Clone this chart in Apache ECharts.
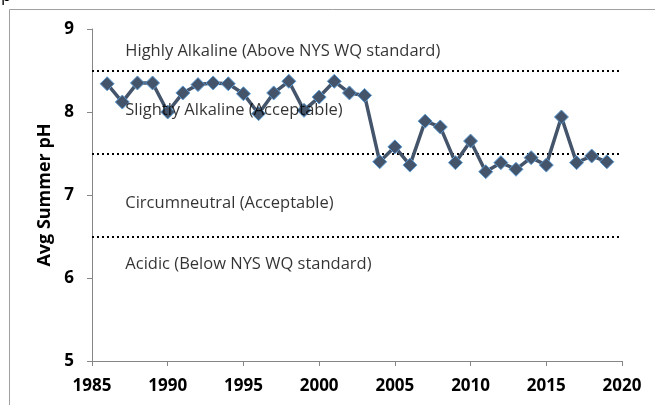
<!DOCTYPE html>
<html><head><meta charset="utf-8">
<script src="https://cdn.jsdelivr.net/npm/echarts@6/dist/echarts.min.js"></script>
<style>html,body{margin:0;padding:0;background:#fff}#c{width:655px;height:405px}</style>
</head><body><div id="c"></div>
<script>
var years = [1986,1987,1988,1989,1990,1991,1992,1993,1994,1995,1996,1997,1998,1999,2000,2001,2002,2003,2004,2005,2006,2007,2008,2009,2010,2011,2012,2013,2014,2015,2016,2017,2018,2019];
var phValues = [8.34,8.12,8.35,8.35,8.00,8.23,8.33,8.35,8.34,8.22,7.98,8.23,8.37,8.02,8.18,8.37,8.23,8.20,7.40,7.58,7.36,7.89,7.82,7.39,7.65,7.28,7.39,7.31,7.45,7.36,7.94,7.39,7.47,7.40];
var thresholds = [8.5, 7.5, 6.5];
var zoneLabels = ["Highly Alkaline (Above NYS WQ standard)","Slightly Alkaline (Acceptable)","Circumneutral (Acceptable)","Acidic (Below NYS WQ standard)"];
var zoneLabelPH = [8.73, 8.02, 6.90, 6.16];
var zoneLabelYear = 1987.2;
var xTicks = [1985,1990,1995,2000,2005,2010,2015,2020];
var yTicks = [5,6,7,8,9];

var font = "'Open Sans', sans-serif";
var chart = echarts.init(document.getElementById('c'));
chart.setOption({
  animation: false,
  grid: {left: 92, right: 33, top: 29, bottom: 44},
  graphic: [
    {type:'rect', shape:{x:9.5,y:9.5,width:700,height:500}, style:{fill:'none', stroke:'#a0a0a0', lineWidth:1}, z:-1},
    {type:'text', left:1, top:-12, style:{text:'p', font:'17px '+font, fill:'#000'}}
  ],
  xAxis: {
    type:'value', min:xTicks[0], max:xTicks[xTicks.length-1], interval:5,
    axisLine:{show:true, lineStyle:{color:'#868686', width:1}},
    axisTick:{show:true, inside:false, length:5, lineStyle:{color:'#868686'}},
    splitLine:{show:false},
    axisLabel:{color:'#000', fontWeight:'bold', fontSize:17, fontFamily:font, margin:17,
      formatter:function(v){return String(v);}}
  },
  yAxis: {
    type:'value', min:yTicks[0], max:yTicks[yTicks.length-1], interval:1,
    name:'Avg Summer pH', nameLocation:'middle', nameGap:36,
    nameTextStyle:{color:'#000', fontWeight:'bold', fontSize:18, fontFamily:font},
    axisLine:{show:true, lineStyle:{color:'#868686', width:1}},
    axisTick:{show:true, inside:false, length:5, lineStyle:{color:'#868686'}},
    splitLine:{show:false},
    axisLabel:{color:'#000', fontWeight:'bold', fontSize:17, fontFamily:font, margin:18,
      formatter:function(v){return String(v);}}
  },
  series: [
    {
      type:'line',
      data: years.map(function(y,i){return [y, phValues[i]];}),
      symbol:'diamond', symbolSize:14,
      lineStyle:{color:'#44546A', width:3.5},
      itemStyle:{color:'#44546A', borderColor:'#5B9BD5', borderWidth:1},
      z:3,
      markLine:{
        silent:true, symbol:['none','none'],
        label:{show:false},
        lineStyle:{color:'#000', type:[2,3], width:2},
        data: thresholds.map(function(t){return {yAxis:t};}),
        z:2
      }
    },
    {
      type:'scatter',
      data: zoneLabels.map(function(t,i){return {value:[zoneLabelYear, zoneLabelPH[i]], name:t};}),
      symbolSize:0, silent:true, z:10,
      label:{show:true, position:'right', distance:0, formatter:function(p){return p.name;}, color:'#000', fontSize:16.5, fontFamily:font}
    }
  ]
});
</script></body></html>
